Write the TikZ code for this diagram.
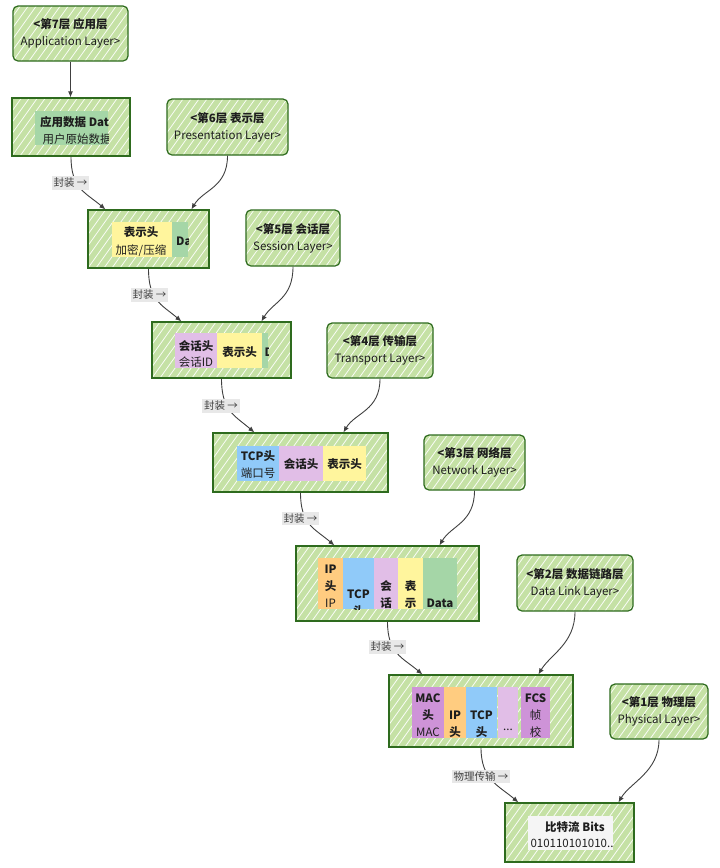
\documentclass[tikz,border=0pt]{standalone}
\usepackage{fontspec}
\setmainfont{Noto Sans CJK SC}
\usetikzlibrary{arrows.meta}

\definecolor{boxfill}{HTML}{C5E1A5}
\definecolor{boxline}{HTML}{2E6B1E}
\definecolor{cgreen}{HTML}{A5D6A7}
\definecolor{cyellow}{HTML}{FFF59D}
\definecolor{cpurple}{HTML}{E1BEE7}
\definecolor{cblue}{HTML}{90CAF9}
\definecolor{corange}{HTML}{FFCC80}
\definecolor{cmac}{HTML}{CE93D8}
\definecolor{cbits}{HTML}{F5F5F5}
\definecolor{lblbg}{HTML}{E8E8E8}
\definecolor{ink}{HTML}{1E1E1E}

% clip to a cell and fill it; used inside a scope
\newcommand\cellclip[5]{\clip (#1,#2) rectangle (#3,#4); \fill[#5] (#1,#2) rectangle (#3,#4);}

\tikzset{
  hatched/.style={fill=boxfill, path picture={
     \foreach \k in {-12,...,26}
       \draw[white, line width=0.8pt, opacity=0.9]
         ([xshift=\k*8pt]path picture bounding box.south west) -- ++(70,-98);}},
  layerbox/.style={hatched, draw=boxline, line width=1.2pt, rounded corners=5pt,
     inner sep=0pt, align=center, font=\fontsize{11.5}{17}\selectfont, text=ink},
  databox/.style={hatched, draw=boxline, line width=1.2pt, inner sep=0pt},
  flow/.style={draw=ink!85, line width=0.9pt, -{Latex[length=6pt,width=5pt]}},
  lbl/.style={fill=lblbg, inner sep=2pt, font=\fontsize{10.5}{12}\selectfont, text=ink!85},
  tx/.style={font=\fontsize{11.5}{13}\selectfont, text=ink, inner sep=0pt, text height=8pt, text depth=2pt},
  tb/.style={tx, font=\fontsize{11.5}{13}\selectfont\bfseries},
}

\begin{document}
\begin{tikzpicture}[x=1pt,y=-1pt]
\fill[white] (0,0) rectangle (720,868);
\useasboundingbox (0,0) rectangle (720,868);

% ---------- layer boxes ----------
\node[layerbox, minimum width=115pt, minimum height=55pt] (l7) at (70.5,33.5) {\textbf{<第7层 应用层}\\Application Layer>};
\node[layerbox, minimum width=121pt, minimum height=56pt] (l6) at (227.5,127) {\textbf{<第6层 表示层}\\Presentation Layer>};
\node[layerbox, minimum width=94pt, minimum height=56pt] (l5) at (293,238) {\textbf{<第5层 会话层}\\Session Layer>};
\node[layerbox, minimum width=106pt, minimum height=55pt] (l4) at (380,350.5) {\textbf{<第4层 传输层}\\Transport Layer>};
\node[layerbox, minimum width=101pt, minimum height=55pt] (l3) at (474.5,462.5) {\textbf{<第3层 网络层}\\Network Layer>};
\node[layerbox, minimum width=116pt, minimum height=56pt] (l2) at (575,583) {\textbf{<第2层 数据链路层}\\Data Link Layer>};
\node[layerbox, minimum width=98pt, minimum height=55pt] (l1) at (659,711.5) {\textbf{<第1层 物理层}\\Physical Layer>};

% ---------- data units ----------
\node[databox, minimum width=118pt, minimum height=58pt] (d7) at (71,127) {};
\node[databox, minimum width=121pt, minimum height=58pt] (d6) at (148.5,239) {};
\node[databox, minimum width=139pt, minimum height=56pt] (d5) at (221.5,350) {};
\node[databox, minimum width=175pt, minimum height=59pt] (d4) at (300.5,462.5) {};
\node[databox, minimum width=183pt, minimum height=75pt] (d3) at (387.5,583.5) {};
\node[databox, minimum width=184pt, minimum height=72pt] (d2) at (481,711) {};
\node[databox, minimum width=129pt, minimum height=59pt] (d1) at (569.5,832.5) {};

% application data
\begin{scope}\cellclip{35}{111}{108}{145}{cgreen}
  \node[tb] (d7a) at (78,123) {应用数据 Data};
  \node[tx] (d7b) at (77,140) {用户原始数据};
\end{scope}

% presentation
\begin{scope}\cellclip{112}{222}{172}{257}{cyellow}
  \node[tb] (d6a) at (141,233) {表示头};
  \node[tx] (d6b) at (141,251) {加密/压缩};
\end{scope}
\begin{scope}\cellclip{172}{222}{188}{257}{cgreen}
  \node[tb, anchor=west] (d6c) at (176,242) {Data};
\end{scope}

% session
\begin{scope}\cellclip{175}{333}{217}{368}{cpurple}
  \node[tb] (d5a) at (196,347) {会话头};
  \node[tx] (d5b) at (196,363) {会话ID};
\end{scope}
\begin{scope}\cellclip{217}{333}{262}{368}{cyellow}
  \node[tb] (d5c) at (239.5,353) {表示头};
\end{scope}
\begin{scope}\cellclip{262}{333}{268}{368}{cgreen}
  \node[tb, anchor=west] (d5d) at (264.5,353) {Data};
\end{scope}

% transport
\begin{scope}\cellclip{237}{446}{279}{481}{cblue}
  \node[tb] (d4a) at (258,457) {TCP头};
  \node[tx] (d4b) at (258,474) {端口号};
\end{scope}
\begin{scope}\cellclip{279}{446}{323}{481}{cpurple}
  \node[tb] (d4c) at (301,465) {会话头};
\end{scope}
\begin{scope}\cellclip{323}{446}{366}{481}{cyellow}
  \node[tb] (d4d) at (344.5,465) {表示头};
\end{scope}

% network
\begin{scope}\cellclip{318}{558}{343}{609}{corange}
  \node[tb] (d3a) at (330.5,570) {IP};
  \node[tb] (d3b) at (330.5,587) {头};
  \node[tx] (d3c) at (330.5,604) {IP};
\end{scope}
\begin{scope}\cellclip{343}{558}{374}{609}{cblue}
  \node[tb] (d3d) at (358.5,595) {TCP};
  \node[tb] (d3e) at (358.5,612) {头};
\end{scope}
\begin{scope}\cellclip{374}{558}{398}{609}{cpurple}
  \node[tb] (d3f) at (386,587) {会};
  \node[tb] (d3g) at (386,604) {话};
\end{scope}
\begin{scope}\cellclip{398}{558}{423}{609}{cyellow}
  \node[tb] (d3h) at (410.5,587) {表};
  \node[tb] (d3i) at (410.5,604) {示};
\end{scope}
\begin{scope}\cellclip{423}{558}{457}{609}{cgreen}
  \node[tb] (d3j) at (440,604) {Data};
\end{scope}

% data link
\begin{scope}\cellclip{412}{687}{444}{738}{cmac}
  \node[tb] (d2a) at (428,699) {MAC};
  \node[tb] (d2b) at (428,716) {头};
  \node[tx] (d2c) at (428,733) {MAC};
\end{scope}
\begin{scope}\cellclip{444}{687}{466}{738}{corange}
  \node[tb] (d2d) at (455,716) {IP};
  \node[tb] (d2e) at (455,733) {头};
\end{scope}
\begin{scope}\cellclip{466}{687}{497}{738}{cblue}
  \node[tb] (d2f) at (481.5,716) {TCP};
  \node[tb] (d2g) at (481.5,733) {头};
\end{scope}
\begin{scope}\cellclip{498}{687}{518}{738}{cpurple}
  \node[tx] (d2h) at (508,727) {...};
\end{scope}
\begin{scope}\cellclip{521}{687}{550}{738}{cmac}
  \node[tb] (d2i) at (535.5,699) {FCS};
  \node[tx] (d2j) at (535.5,716) {帧};
  \node[tx] (d2k) at (535.5,733) {校};
\end{scope}

% physical
\begin{scope}\cellclip{528}{816}{613}{850}{cbits}
  \node[tb] (d1a) at (575,828) {比特流 Bits};
  \node[tx] (d1b) at (572,844) {010110101010..};
\end{scope}

% ---------- connectors ----------
\draw[flow] (l7.south) -- (l7.south |- d7.north);

\draw[flow] (d7.south) .. controls +(0,32) and +(-20,-17) .. ([xshift=18pt]d6.north west);
\draw[flow] (l6.south) .. controls +(0,32) and +(12,-20) .. ([xshift=104pt]d6.north west);

\draw[flow] (d6.south) .. controls +(0,32) and +(-20,-17) .. ([xshift=30pt]d5.north west);
\draw[flow] (l5.south) .. controls +(0,32) and +(12,-20) .. ([xshift=110pt]d5.north west);

\draw[flow] (d5.south) .. controls +(0,32) and +(-20,-17) .. ([xshift=42pt]d4.north west);
\draw[flow] (l4.south) .. controls +(0,32) and +(12,-20) .. ([xshift=131pt]d4.north west);

\draw[flow] (d4.south) .. controls +(0,32) and +(-20,-17) .. ([xshift=39pt]d3.north west);
\draw[flow] (l3.south) .. controls +(0,32) and +(12,-20) .. ([xshift=144pt]d3.north west);

\draw[flow] (d3.south) .. controls +(0,32) and +(-20,-17) .. ([xshift=34pt]d2.north west);
\draw[flow] (l2.south) .. controls +(0,32) and +(12,-20) .. ([xshift=150pt]d2.north west);

\draw[flow] (d2.south) .. controls +(0,32) and +(-20,-17) .. ([xshift=14pt]d1.north west);
\draw[flow] (l1.south) .. controls +(0,32) and +(12,-20) .. ([xshift=114pt]d1.north west);

% ---------- edge labels ----------
\node[lbl] (e6) at (70.5,183) {封装 →};
\node[lbl] (e5) at (149.5,295) {封装 →};
\node[lbl] (e4) at (221,406) {封装 →};
\node[lbl] (e3) at (300.5,518.5) {封装 →};
\node[lbl] (e2) at (387.5,647) {封装 →};
\node[lbl] (e1) at (481,776.5) {物理传输 →};
\end{tikzpicture}
\end{document}
